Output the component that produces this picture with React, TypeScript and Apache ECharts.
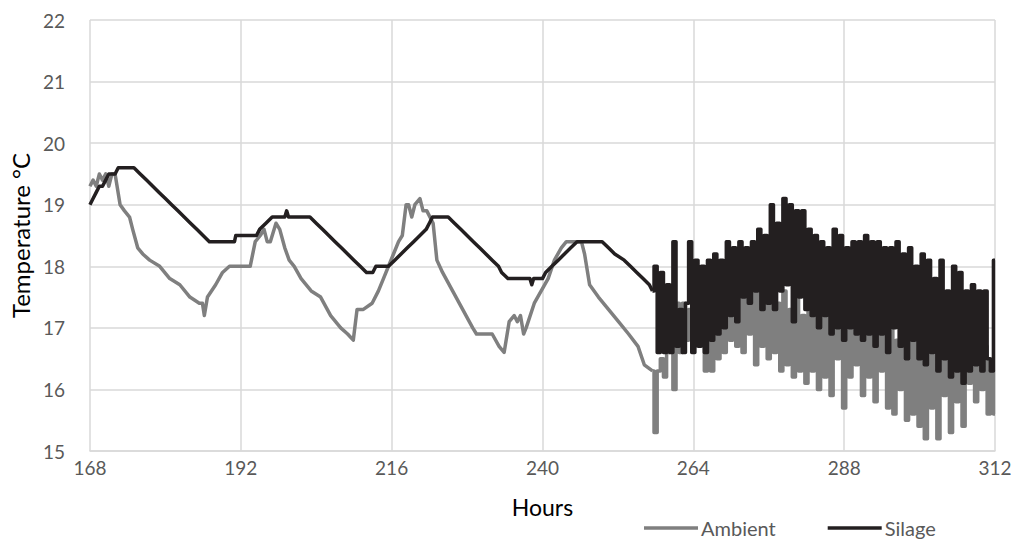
import React, { useEffect, useRef } from "react";
import * as echarts from "echarts";

// Axis ranges
const HOUR_MIN = 168;
const HOUR_MAX = 312;
const HOUR_STEP = 24;
const TEMP_MIN = 15;
const TEMP_MAX = 22;
const TEMP_STEP = 1;

// Ambient air temperature, slow daily cycle (hour, °C)
const ambientDaily: [number, number][] = [
  [168.0, 19.3], [168.5, 19.4], [169.0, 19.3], [169.5, 19.5], [170.0, 19.4],
  [170.5, 19.5], [171.0, 19.3], [171.5, 19.5], [172.0, 19.5], [172.8, 19.0],
  [173.5, 18.9], [174.3, 18.8], [174.8, 18.6], [175.6, 18.3], [176.4, 18.2],
  [177.5, 18.1], [179.1, 18.0], [180.7, 17.8], [182.3, 17.7], [183.9, 17.5],
  [185.4, 17.4], [185.9, 17.4], [186.2, 17.2], [186.7, 17.5], [188.0, 17.7],
  [189.1, 17.9], [190.2, 18.0], [193.5, 18.0], [194.3, 18.4], [195.1, 18.5],
  [195.7, 18.6], [196.2, 18.4], [196.7, 18.4], [197.6, 18.7], [198.2, 18.6],
  [199.0, 18.3], [199.7, 18.1], [200.5, 18.0], [201.6, 17.8], [203.2, 17.6],
  [204.7, 17.5], [206.3, 17.2], [207.9, 17.0], [209.0, 16.9], [209.9, 16.8],
  [210.5, 17.3], [211.5, 17.3], [212.9, 17.4], [213.9, 17.6], [214.7, 17.8],
  [215.5, 18.0], [216.3, 18.2], [217.1, 18.4], [217.7, 18.5], [218.3, 19.0],
  [218.7, 19.0], [219.2, 18.8], [219.7, 19.0], [220.5, 19.1], [221.0, 18.9],
  [221.6, 18.9], [222.6, 18.7], [223.2, 18.1], [224.1, 17.9], [225.7, 17.6],
  [227.3, 17.3], [228.9, 17.0], [229.5, 16.9], [231.1, 16.9], [232.0, 16.9],
  [233.1, 16.7], [233.9, 16.6], [234.7, 17.1], [235.5, 17.2], [236.0, 17.1],
  [236.5, 17.2], [237.0, 16.9], [237.4, 17.0], [238.7, 17.4], [239.8, 17.6],
  [240.9, 17.8], [241.9, 18.1], [243.0, 18.3], [243.8, 18.4], [246.2, 18.4],
  [246.7, 18.2], [247.5, 17.7], [248.9, 17.5], [250.5, 17.3], [252.1, 17.1],
  [253.7, 16.9], [255.2, 16.7], [256.2, 16.4], [257.5, 16.3],
];

// Silage temperature, slow daily cycle (hour, °C)
const silageDaily: [number, number][] = [
  [168.0, 19.0], [168.5, 19.1], [169.0, 19.2], [169.5, 19.3], [170.0, 19.3],
  [170.5, 19.4], [171.0, 19.5], [172.0, 19.5], [172.5, 19.6], [175.0, 19.6],
  [176.0, 19.5], [177.0, 19.4], [178.0, 19.3], [179.0, 19.2], [180.0, 19.1],
  [181.0, 19.0], [182.0, 18.9], [183.0, 18.8], [184.0, 18.7], [185.0, 18.6],
  [186.0, 18.5], [187.0, 18.4], [191.0, 18.4], [191.2, 18.5], [194.5, 18.5],
  [195.0, 18.6], [196.0, 18.7], [197.0, 18.8], [199.0, 18.8], [199.3, 18.9],
  [199.6, 18.8], [203.0, 18.8], [204.0, 18.7], [205.0, 18.6], [206.0, 18.5],
  [207.0, 18.4], [208.0, 18.3], [209.0, 18.2], [210.0, 18.1], [211.0, 18.0],
  [212.0, 17.9], [213.0, 17.9], [213.5, 18.0], [215.5, 18.0], [216.5, 18.1],
  [217.5, 18.2], [218.5, 18.3], [219.5, 18.4], [220.5, 18.5], [221.5, 18.6],
  [222.0, 18.7], [222.5, 18.8], [225.0, 18.8], [226.0, 18.7], [227.0, 18.6],
  [228.0, 18.5], [229.0, 18.4], [230.0, 18.3], [231.0, 18.2], [232.0, 18.1],
  [233.0, 18.0], [233.5, 17.9], [234.5, 17.8], [238.0, 17.8], [238.3, 17.7],
  [238.6, 17.8], [240.0, 17.8], [240.5, 17.9], [241.5, 18.0], [242.5, 18.1],
  [243.5, 18.2], [244.5, 18.3], [245.5, 18.4], [249.5, 18.4], [250.5, 18.3],
  [251.5, 18.2], [253.0, 18.1], [254.0, 18.0], [255.0, 17.9], [256.0, 17.8],
  [257.0, 17.7], [257.5, 17.6],
];

// Half-hourly readings once the logger became unstable, from hour 258
const UNSTABLE_START = 258;
const UNSTABLE_INTERVAL = 0.5;

const ambientUnstable: number[] = [
  15.3, 16.3, 16.5, 16.2, 16.6, 17.2, 16.0, 17.4, 16.6, 17.4,
  16.8, 17.3, 17.0, 17.6, 16.9, 17.2, 16.3, 17.4, 16.3, 17.6,
  16.5, 17.5, 16.6, 17.8, 16.8, 17.6, 16.7, 17.7, 16.6, 17.6,
  16.9, 17.8, 16.4, 17.7, 16.7, 17.8, 16.5, 17.5, 16.6, 17.4,
  16.3, 17.6, 16.4, 17.3, 16.2, 17.5, 16.3, 17.2, 16.1, 17.6,
  16.3, 17.4, 16.0, 17.3, 16.2, 17.5, 15.9, 17.2, 16.5, 17.1,
  15.7, 17.4, 16.2, 17.1, 16.4, 17.0, 15.9, 17.3, 16.2, 16.9,
  15.8, 17.1, 16.3, 17.0, 15.7, 17.2, 15.6, 16.8, 16.0, 17.1,
  15.5, 16.9, 15.6, 17.0, 15.4, 16.8, 15.2, 16.9, 15.7, 16.6,
  15.2, 16.8, 15.9, 16.7, 15.3, 16.6, 15.8, 16.9, 15.4, 16.5,
  16.1, 16.8, 15.8, 16.4, 16.0, 16.7, 15.6, 16.3, 15.6,
];

const silageUnstable: number[] = [
  18.0, 16.6, 17.9, 16.6, 17.7, 16.6, 18.4, 16.7, 17.3, 16.6,
  17.4, 18.4, 16.6, 18.1, 16.7, 18.0, 16.6, 18.1, 16.8, 18.2,
  16.9, 18.1, 17.0, 18.4, 17.2, 18.3, 17.1, 18.4, 17.5, 18.3,
  17.4, 18.4, 17.6, 18.6, 17.3, 18.5, 17.4, 19.0, 17.3, 18.7,
  17.6, 19.1, 17.7, 19.0, 17.1, 18.9, 17.5, 18.9, 17.3, 18.6,
  17.2, 18.5, 17.0, 18.4, 17.2, 18.3, 16.9, 18.6, 17.0, 18.5,
  16.8, 18.3, 17.0, 18.4, 16.9, 18.4, 16.8, 18.5, 16.9, 18.4,
  16.7, 18.4, 16.9, 18.3, 16.6, 18.3, 17.0, 18.4, 16.7, 18.2,
  16.5, 18.3, 16.8, 18.0, 16.5, 18.2, 16.4, 18.1, 16.6, 17.8,
  16.3, 18.1, 16.5, 17.6, 16.2, 18.0, 16.3, 17.9, 16.1, 17.6,
  16.3, 17.7, 16.4, 17.6, 16.3, 17.6, 16.5, 16.3, 18.1,
];

const SERIES_NAMES = ["Ambient", "Silage"];
const SERIES_COLORS = ["#7f7f7f", "#231f20"];

const withHours = (values: number[]): [number, number][] =>
  values.map((v, i) => [UNSTABLE_START + i * UNSTABLE_INTERVAL, v]);

const FONT = "Lato, 'Open Sans', sans-serif";
const GRID_COLOR = "#d9d9d9";
const LABEL_COLOR = "#595959";

const lineSeries = (
  idx: number,
  data: [number, number][],
  stepped: boolean
) => ({
  name: SERIES_NAMES[idx],
  type: "line",
  data,
  step: stepped ? "middle" : false,
  showSymbol: false,
  color: SERIES_COLORS[idx],
  lineStyle: { color: SERIES_COLORS[idx], width: 3.5, join: "round" },
});

export default function App() {
  const ref = useRef<HTMLDivElement>(null);

  useEffect(() => {
    if (!ref.current) return;
    const chart = echarts.init(ref.current, undefined, { renderer: "svg" });

    const ambientTail = [ambientDaily[ambientDaily.length - 1], ...withHours(ambientUnstable)];
    const silageTail = [silageDaily[silageDaily.length - 1], ...withHours(silageUnstable)];

    chart.setOption({
      animation: false,
      backgroundColor: "#ffffff",
      textStyle: { fontFamily: FONT },
      grid: { left: 87, right: 23, top: 20, bottom: 89 },
      legend: {
        data: SERIES_NAMES,
        left: 639,
        top: 513,
        icon: "rect",
        itemWidth: 54,
        itemHeight: 3.5,
        itemGap: 52,
        textStyle: { color: LABEL_COLOR, fontSize: 20, fontFamily: FONT, padding: [0, 0, 0, -2] },
      },
      xAxis: {
        type: "value",
        min: HOUR_MIN,
        max: HOUR_MAX,
        interval: HOUR_STEP,
        name: "Hours",
        nameLocation: "middle",
        nameGap: 44,
        nameTextStyle: { color: "#000000", fontSize: 23, fontFamily: FONT },
        axisLine: { show: true, lineStyle: { color: GRID_COLOR, width: 1.5 } },
        axisTick: { show: false },
        axisLabel: { color: LABEL_COLOR, fontSize: 19, margin: 7, fontFamily: FONT },
        splitLine: { show: true, lineStyle: { color: GRID_COLOR, width: 1.5 } },
      },
      yAxis: {
        type: "value",
        min: TEMP_MIN,
        max: TEMP_MAX,
        interval: TEMP_STEP,
        name: "Temperature °C",
        nameLocation: "middle",
        nameRotate: 90,
        nameGap: 53,
        nameTextStyle: { color: "#000000", fontSize: 24, fontFamily: FONT },
        axisLine: { show: false },
        axisTick: { show: false },
        axisLabel: { color: LABEL_COLOR, fontSize: 19, margin: 25, fontFamily: FONT },
        splitLine: { show: true, lineStyle: { color: GRID_COLOR, width: 1.5 } },
      },
      series: [
        lineSeries(0, ambientDaily, false),
        lineSeries(0, ambientTail, true),
        lineSeries(1, silageDaily, false),
        lineSeries(1, silageTail, true),
      ],
    });

    return () => chart.dispose();
  }, []);

  return <div ref={ref} style={{ width: 1018, height: 540, position: "absolute", left: 0, top: 0 }} />;
}
